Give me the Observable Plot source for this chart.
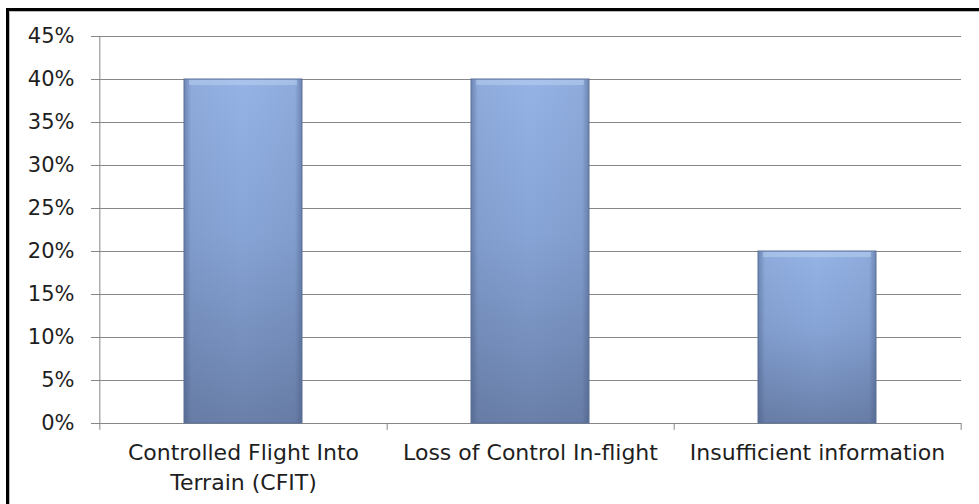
<!DOCTYPE html>
<html>
<head>
<meta charset="utf-8">
<script src="https://cdn.jsdelivr.net/npm/d3@7"></script>
<script src="https://cdn.jsdelivr.net/npm/@observablehq/plot@0.6"></script>
<style>
  html, body { margin: 0; padding: 0; background: #fff; }
  #wrap { position: relative; width: 979px; height: 504px; overflow: hidden; }
  #frame { position: absolute; left: 6px; top: 8px; width: 1000px; height: 600px;
           border-left: 3px solid #000; border-top: 3px solid #000;
           box-shadow: inset 1px 1px 0 #bdbdbd; }
  #chart { position: absolute; left: 0; top: 0; }
</style>
</head>
<body>
<div id="wrap"><div id="frame"></div><div id="chart"></div></div>
<script>
const categories = ["Controlled Flight Into\nTerrain (CFIT)", "Loss of Control In-flight", "Insufficient information"];
const values = [40, 40, 20];
const yTicks = [0, 5, 10, 15, 20, 25, 30, 35, 40, 45];

const data = categories.map((c, i) => ({category: c, value: values[i]}));

const W = 979, H = 504, mL = 99, mR = 18, mT = 36, mB = 81;
const step = (W - mL - mR) / categories.length;
const grey = "#868686";
const textColor = "#1e1e1e";
const font = "'DejaVu Sans', 'Open Sans', sans-serif";

const plot = Plot.plot({
  width: W, height: H,
  marginLeft: mL, marginRight: mR, marginTop: mT, marginBottom: mB,
  style: {fontFamily: font, fontSize: "21px", background: "transparent", overflow: "visible"},
  x: {domain: categories, paddingInner: 0.59, paddingOuter: 0.295, axis: null},
  y: {domain: [0, 45], axis: null},
  marks: [
    Plot.gridY(yTicks, {stroke: grey, strokeOpacity: 1}),
    Plot.ruleX([categories[0]], {x: d => d, dx: -step / 2, y1: -0.8, y2: 45, stroke: grey}),
    Plot.ruleX(categories, {x: d => d, dx: step / 2, y1: -0.8, y2: 0, stroke: grey}),
    Plot.axisY(yTicks, {tickSize: 8, tickPadding: 17, tickFormat: d => d + "%", stroke: grey, fill: textColor, fontSize: 21, label: null}),
    Plot.axisX({tickSize: 0, tickPadding: 15, fontSize: 22, lineHeight: 1.38, fill: textColor, label: null}),
    Plot.barY(data, {x: "category", y: "value", fill: "url(#gv)"}),
    Plot.barY(data, {x: "category", y: "value", fill: "url(#gh)", stroke: "#5d7198", strokeWidth: 1}),
    Plot.tickY(data, {x: "category", y: "value", dy: 3, stroke: "#c3d6f4", strokeWidth: 5, strokeOpacity: 0.45, insetLeft: 5, insetRight: 5})
  ]
});

plot.insertAdjacentHTML("afterbegin", `
<defs>
  <linearGradient id="gv" x1="0" y1="0" x2="0" y2="1">
    <stop offset="0" stop-color="#95b3e5"/>
    <stop offset="0.45" stop-color="#87a4d6"/>
    <stop offset="1" stop-color="#6a80aa"/>
  </linearGradient>
  <linearGradient id="gh" x1="0" y1="0" x2="1" y2="0">
    <stop offset="0" stop-color="#3e5074" stop-opacity="0.45"/>
    <stop offset="0.06" stop-color="#3e5074" stop-opacity="0.08"/>
    <stop offset="0.5" stop-color="#3e5074" stop-opacity="0"/>
    <stop offset="0.94" stop-color="#3e5074" stop-opacity="0.08"/>
    <stop offset="1" stop-color="#3e5074" stop-opacity="0.45"/>
  </linearGradient>
</defs>`);

document.getElementById("chart").appendChild(plot);
</script>
</body>
</html>
